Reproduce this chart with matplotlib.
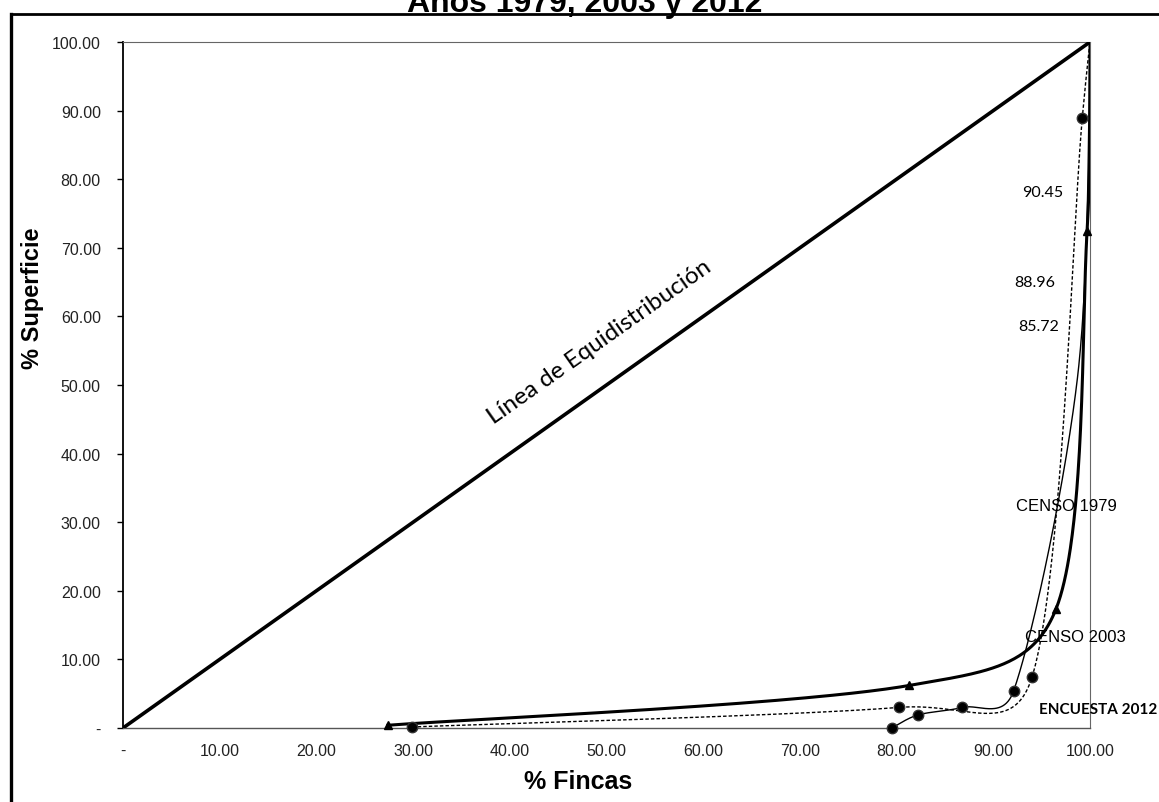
import numpy as np
import matplotlib
matplotlib.use("Agg")
import matplotlib.pyplot as plt
from matplotlib.lines import Line2D
from matplotlib import font_manager

# ---------------- data ----------------
x_ticks = [0, 10, 20, 30, 40, 50, 60, 70, 80, 90, 100]
x_tick_labels = ["-", "10.00", "20.00", "30.00", "40.00", "50.00",
                 "60.00", "70.00", "80.00", "90.00", "100.00"]
y_ticks = [0, 10, 20, 30, 40, 50, 60, 70, 80, 90, 100]
y_tick_labels = ["-", "10.00", "20.00", "30.00", "40.00", "50.00",
                 "60.00", "70.00", "80.00", "90.00", "100.00"]

equality_x = [0, 100]
equality_y = [0, 100]

# thick solid line, triangles
censo_2003_x = [27.4, 81.3, 96.5, 99.7, 100.0]
censo_2003_y = [0.4, 6.2, 17.4, 72.5, 100.0]
# thin solid line, circles
censo_1979_x = [79.5, 82.2, 86.8, 92.1, 98.7, 100.0]
censo_1979_y = [0.0, 1.9, 3.0, 5.4, 51.0, 100.0]
# dashed line, circles
encuesta_2012_x = [29.9, 80.2, 94.0, 99.2, 100.0]
encuesta_2012_y = [0.15, 3.0, 7.4, 88.9, 100.0]

gini_labels = ["90.45", "88.96", "85.72"]
series_labels = ["CENSO 1979", "CENSO 2003", "ENCUESTA 2012"]
title = "Años 1979, 2003 y 2012"

# ---------------- figure ----------------
W, H = 1159, 803
fig = plt.figure(figsize=(W / 100, H / 100), dpi=100)
fig.patch.set_facecolor("white")

def px(x, y):
    return x / W, 1 - y / H

installed = {f.name for f in font_manager.fontManager.ttflist}
ARIAL = ["Liberation Sans", "DejaVu Sans"]
CALIBRI = ["Lato", "DejaVu Sans"]
if "Liberation Sans Narrow" in installed:
    TICKFONT, TICKSIZE = ["Liberation Sans Narrow", "DejaVu Sans"], 13.5
else:
    TICKFONT, TICKSIZE = ARIAL, 11.5

left, right, top, bottom = 123, 1090, 43, 729
ax = fig.add_axes([left / W, 1 - bottom / H, (right - left) / W, (bottom - top) / H])
ax.set_xlim(0, 100)
ax.set_ylim(0, 100)

ax.set_xticks(x_ticks)
ax.set_xticklabels(x_tick_labels, family=TICKFONT, fontsize=TICKSIZE)
ax.set_yticks(y_ticks)
ax.set_yticklabels(y_tick_labels, family=TICKFONT, fontsize=TICKSIZE)
ax.tick_params(axis="x", length=0, pad=11, labelcolor="#222222")
ax.tick_params(axis="y", length=4, width=1, pad=12, labelcolor="#222222",
               color="black", direction="out")

ax.spines["left"].set_color("black")
ax.spines["left"].set_linewidth(1.3)
ax.spines["bottom"].set_color("#555555")
ax.spines["bottom"].set_linewidth(1.0)
for s in ("top", "right"):
    ax.spines[s].set_color("#666666")
    ax.spines[s].set_linewidth(0.8)
    ax.spines[s].set_linestyle((0, (1, 1)))

fig.canvas.draw()

def smooth(xs, ys, n=80):
    """Excel-like smoothed line through the data points (display space Bezier)."""
    P = ax.transData.transform(np.column_stack([xs, ys]))
    m = len(P)
    pts = [P[0]]
    t = np.linspace(0, 1, n)[1:, None]
    for i in range(m - 1):
        p0 = P[i - 1] if i > 0 else P[i]
        p1 = P[i]
        p2 = P[i + 1]
        p3 = P[i + 2] if i + 2 < m else P[i + 1]
        d01 = np.linalg.norm(p1 - p0)
        d12 = np.linalg.norm(p2 - p1)
        d23 = np.linalg.norm(p3 - p2)
        w1 = min(1.0, np.sqrt(2 * d12 / (d01 + d12))) if d01 + d12 > 0 else 0
        w2 = min(1.0, np.sqrt(2 * d12 / (d12 + d23))) if d12 + d23 > 0 else 0
        c1 = p1 + (p2 - p0) * w1 / 6.0
        c2 = p2 - (p3 - p1) * w2 / 6.0
        seg = ((1 - t) ** 3) * p1 + 3 * ((1 - t) ** 2) * t * c1 \
            + 3 * (1 - t) * t ** 2 * c2 + t ** 3 * p2
        pts.extend(seg)
    pts = np.array(pts)
    d = ax.transData.inverted().transform(pts)
    return d[:, 0], d[:, 1]

# equality line
ax.plot(equality_x, equality_y, color="black", lw=2.6, solid_capstyle="round", zorder=3)

# CENSO 2003 (thick, triangles)
sx, sy = smooth(censo_2003_x, censo_2003_y)
ax.plot(sx, sy, color="black", lw=2.2, zorder=4)
ax.plot(censo_2003_x[:-1], censo_2003_y[:-1], ls="none", marker="^", ms=6,
        color="black", zorder=5, clip_on=False)

# CENSO 1979 (thin solid, circles)
sx, sy = smooth(censo_1979_x, censo_1979_y)
ax.plot(sx, sy, color="black", lw=1.0, zorder=4)
ax.plot(censo_1979_x[:4], censo_1979_y[:4], ls="none", marker="o", ms=7.5,
        color="black", mec="#333333", zorder=5, clip_on=False)

# ENCUESTA 2012 (dashed, circles)
sx, sy = smooth(encuesta_2012_x, encuesta_2012_y)
ax.plot(sx, sy, color="black", lw=1.0, ls=(0, (2.5, 1.5)), zorder=4)
ax.plot(encuesta_2012_x[:-1], encuesta_2012_y[:-1], ls="none", marker="o", ms=7.5,
        color="black", mec="#333333", zorder=5, clip_on=False)

# texts
ax.text(0.493, 0.564, "Línea de Equidistribución", transform=ax.transAxes,
        rotation=35.2, rotation_mode="anchor", ha="center", va="center",
        family=CALIBRI, fontsize=17.5)

gini_pos = [(1043, 193), (1035, 283), (1039, 327)]
for lab, (gx, gy) in zip(gini_labels, gini_pos):
    fig.text(*px(gx, gy), lab, ha="center", va="center", family=CALIBRI, fontsize=11.5)

fig.text(*px(1066, 507), series_labels[0], ha="center", va="center", family=ARIAL, fontsize=12)
fig.text(*px(1075, 638), series_labels[1], ha="center", va="center", family=ARIAL, fontsize=12)
fig.text(*px(1157, 710), series_labels[2], ha="right", va="center", family=CALIBRI,
         fontsize=11, fontweight="bold")

fig.text(*px(33, 298), "% Superficie", rotation=90, ha="center", va="center",
         family=ARIAL, fontsize=17, fontweight="bold")
fig.text(*px(578, 782), "% Fincas", ha="center", va="center",
         family=ARIAL, fontsize=18, fontweight="bold")

fig.text(*px(585, 12), title, ha="center", va="baseline", family=ARIAL,
         fontsize=23, fontweight="bold")

# outer frame (left and top edges visible)
fig.add_artist(Line2D([11 / W, 11 / W], [0, 1 - 15 / H], transform=fig.transFigure,
                      color="black", lw=2.4))
fig.add_artist(Line2D([11 / W, 1], [1 - 15 / H, 1 - 15 / H], transform=fig.transFigure,
                      color="black", lw=2.0))

fig.savefig("out.png", dpi=100)
